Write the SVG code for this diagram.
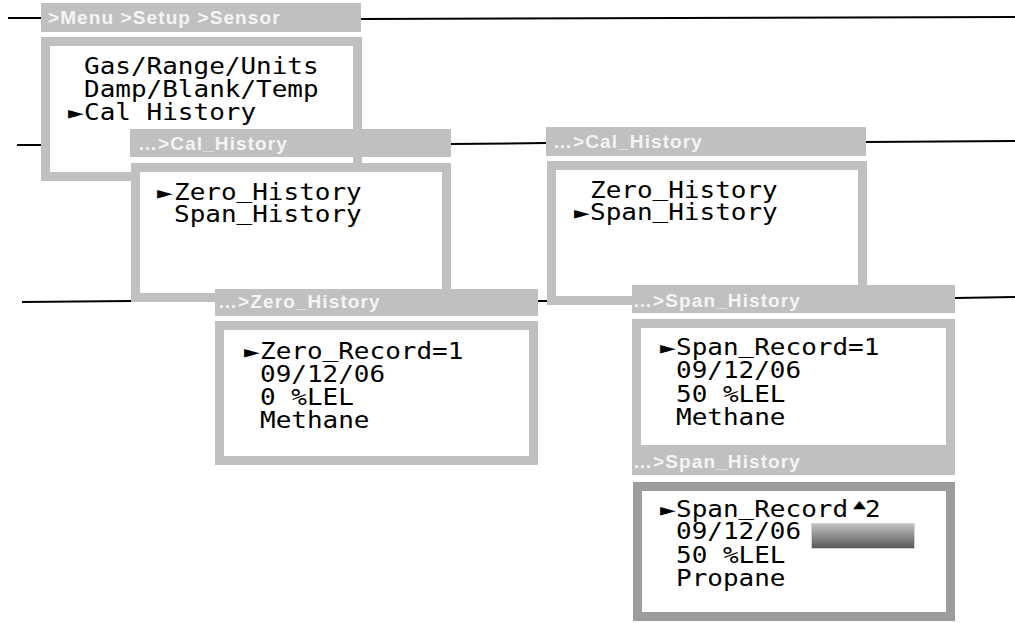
<svg xmlns="http://www.w3.org/2000/svg" width="1015" height="623" viewBox="0 0 1015 623">
<defs>
<linearGradient id="bar" x1="0" y1="0" x2="0" y2="1">
<stop offset="0" stop-color="#c4c4c4"/>
<stop offset="1" stop-color="#565656"/>
</linearGradient>
</defs>
<style>
.title{fill:#c0c0c0}
.frame{fill:#ffffff;stroke:#c0c0c0;stroke-width:9}
.frame2{fill:#ffffff;stroke:#9c9c9c;stroke-width:9}
.tt{font-family:"Liberation Sans",Arial,sans-serif;font-weight:bold;font-size:19px;letter-spacing:1.1px;fill:#f4f4f4}
.mono{font-family:"DejaVu Sans Mono",monospace;font-size:26px;fill:#000}
.conn line{stroke:#000;stroke-width:2}
</style>
<rect width="1015" height="623" fill="#ffffff"/>
<g id="connectors" class="conn">
<line x1="8" y1="18" x2="41" y2="18"/>
<line x1="361" y1="19" x2="1015" y2="17"/>
<line x1="17" y1="145" x2="41" y2="145"/>
<line x1="451" y1="144" x2="546" y2="143"/>
<line x1="866" y1="142" x2="1015" y2="141"/>
<line x1="22" y1="302" x2="131" y2="301"/>
<line x1="538" y1="301" x2="547" y2="301"/>
<line x1="955" y1="298" x2="1015" y2="297"/>
</g>
<g id="node-sensor">
<rect class="title" x="41" y="3" width="320" height="29"/>
<text class="tt" x="48" y="24">&gt;Menu &gt;Setup &gt;Sensor</text>
<rect class="frame" x="45.5" y="41.5" width="312" height="135"/>
<text class="mono" transform="translate(84,74) scale(1,0.85)">Gas/Range/Units</text>
<text class="mono" transform="translate(84,97) scale(1,0.85)">Damp/Blank/Temp</text>
<text class="mono" transform="translate(68,120) scale(1,0.85)">►</text>
<text class="mono" transform="translate(84,120) scale(1,0.85)">Cal History</text>
</g>
<g id="node-cal-history-1">
<rect class="title" x="130" y="129" width="321" height="28"/>
<text class="tt" x="138" y="150">…&gt;Cal_History</text>
<rect class="frame" x="135.5" y="167.5" width="311" height="130"/>
<text class="mono" transform="translate(157,200) scale(1,0.85)">►</text>
<text class="mono" transform="translate(174,200) scale(1,0.85)">Zero<tspan dy="-4">_</tspan><tspan dy="4">History</tspan></text>
<text class="mono" transform="translate(174,222) scale(1,0.85)">Span<tspan dy="-4">_</tspan><tspan dy="4">History</tspan></text>
</g>
<g id="node-cal-history-2">
<rect class="title" x="546" y="127" width="320" height="29"/>
<text class="tt" x="553" y="148">…&gt;Cal_History</text>
<rect class="frame" x="551.5" y="165.5" width="311" height="135"/>
<text class="mono" transform="translate(590,198) scale(1,0.85)">Zero<tspan dy="-4">_</tspan><tspan dy="4">History</tspan></text>
<text class="mono" transform="translate(574,220) scale(1,0.85)">►</text>
<text class="mono" transform="translate(590,220) scale(1,0.85)">Span<tspan dy="-4">_</tspan><tspan dy="4">History</tspan></text>
</g>
<g id="node-zero-history">
<rect class="title" x="215" y="289" width="323" height="27"/>
<text class="tt" x="218" y="308">…&gt;Zero_History</text>
<rect class="frame" x="219.5" y="325.5" width="314" height="135"/>
<text class="mono" transform="translate(244,359) scale(1,0.85)">►</text>
<text class="mono" transform="translate(260,359) scale(1,0.85)">Zero<tspan dy="-4">_</tspan><tspan dy="4">Record=1</tspan></text>
<text class="mono" transform="translate(260,382) scale(1,0.85)">09/12/06</text>
<text class="mono" transform="translate(260,405) scale(1,0.85)">0 %LEL</text>
<text class="mono" transform="translate(260,428) scale(1,0.85)">Methane</text>
</g>
<g id="node-span-history-1">
<rect class="title" x="632" y="285" width="323" height="28"/>
<text class="tt" x="633" y="307">…&gt;Span_History</text>
<rect class="frame" x="636.5" y="323.5" width="314" height="127"/>
<text class="mono" transform="translate(660,355) scale(1,0.85)">►</text>
<text class="mono" transform="translate(676,355) scale(1,0.85)">Span<tspan dy="-4">_</tspan><tspan dy="4">Record=1</tspan></text>
<text class="mono" transform="translate(676,378) scale(1,0.85)">09/12/06</text>
<text class="mono" transform="translate(676,402) scale(1,0.85)">50 %LEL</text>
<text class="mono" transform="translate(676,425) scale(1,0.85)">Methane</text>
</g>
<g id="node-span-history-2">
<rect class="title" x="632" y="445" width="323" height="30"/>
<text class="tt" x="633" y="468">…&gt;Span_History</text>
<rect class="frame2" x="637.5" y="486.5" width="313" height="130"/>
<text class="mono" transform="translate(660,517) scale(1,0.85)">►</text>
<text class="mono" transform="translate(676,517) scale(1,0.85)">Span<tspan dy="-4">_</tspan><tspan dy="4">Record</tspan></text>
<text font-family="DejaVu Sans,sans-serif" font-size="16" fill="#000" transform="translate(853,508) scale(1.05,0.68)">▲</text>
<text class="mono" transform="translate(865,517) scale(1,0.85)">2</text>
<text class="mono" transform="translate(676,539) scale(1,0.85)">09/12/06</text>
<text class="mono" transform="translate(676,563) scale(1,0.85)">50 %LEL</text>
<text class="mono" transform="translate(676,586) scale(1,0.85)">Propane</text>
<rect x="811.5" y="523.5" width="103" height="25" fill="url(#bar)" stroke="#d4d4d4" stroke-width="1"/>
</g>
</svg>
